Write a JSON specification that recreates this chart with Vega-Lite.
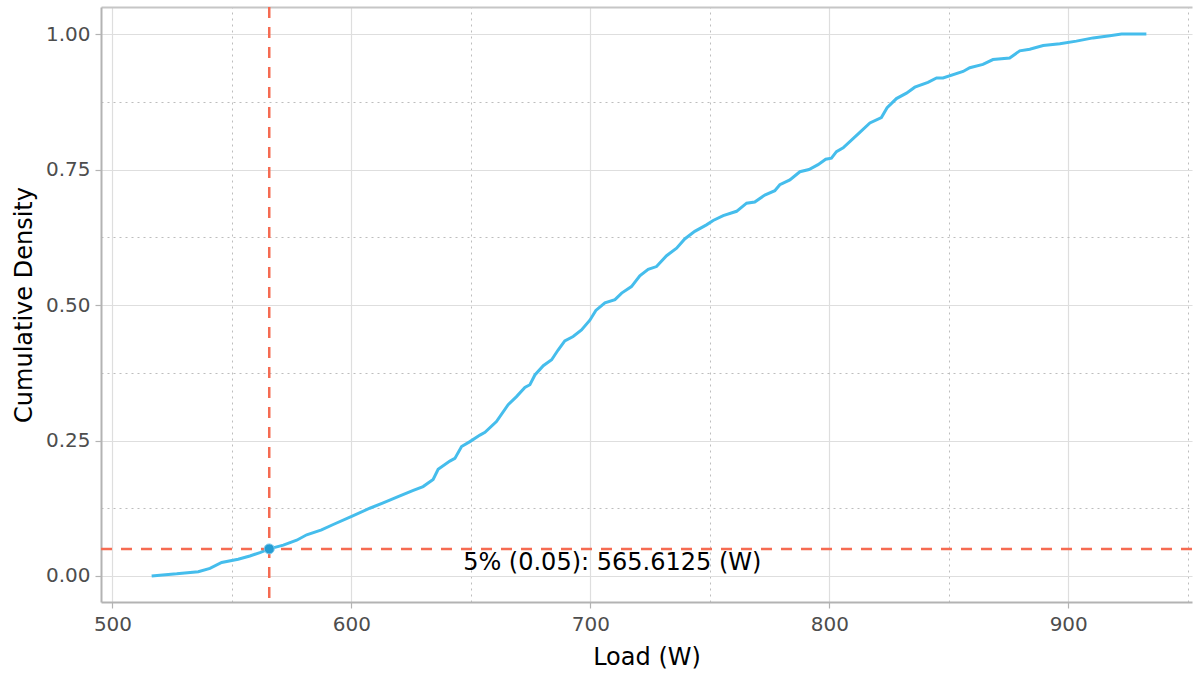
{
  "$schema": "https://vega.github.io/schema/vega-lite/v6.json",
  "width": 1091,
  "height": 595,
  "autosize": {"type": "none"},
  "padding": {"left": 101, "top": 7, "right": 2, "bottom": 71},
  "background": "white",
  "view": {"stroke": null},
  "config": {
    "font": "DejaVu Sans",
    "axis": {"labelFont": "DejaVu Sans", "titleFont": "DejaVu Sans"}
  },
  "datasets": {
    "ecdf": [
      {"load": 516.4, "density": 0.0},
      {"load": 521.0, "density": 0.002},
      {"load": 526.9, "density": 0.004},
      {"load": 535.9, "density": 0.008},
      {"load": 540.8, "density": 0.014},
      {"load": 545.7, "density": 0.025},
      {"load": 552.6, "density": 0.031},
      {"load": 557.5, "density": 0.037},
      {"load": 561.7, "density": 0.043},
      {"load": 565.6, "density": 0.05},
      {"load": 571.5, "density": 0.057},
      {"load": 577.1, "density": 0.066},
      {"load": 581.3, "density": 0.076},
      {"load": 587.5, "density": 0.085},
      {"load": 592.4, "density": 0.095},
      {"load": 600.1, "density": 0.11},
      {"load": 607.7, "density": 0.125},
      {"load": 613.3, "density": 0.135},
      {"load": 620.3, "density": 0.148},
      {"load": 625.9, "density": 0.158},
      {"load": 630.0, "density": 0.165},
      {"load": 634.2, "density": 0.178},
      {"load": 636.3, "density": 0.197},
      {"load": 641.2, "density": 0.212},
      {"load": 643.3, "density": 0.217},
      {"load": 646.1, "density": 0.239},
      {"load": 649.6, "density": 0.248},
      {"load": 653.8, "density": 0.26},
      {"load": 655.9, "density": 0.265},
      {"load": 660.7, "density": 0.285},
      {"load": 665.6, "density": 0.316},
      {"load": 669.1, "density": 0.331},
      {"load": 672.6, "density": 0.348},
      {"load": 674.7, "density": 0.353},
      {"load": 676.8, "density": 0.371},
      {"load": 680.3, "density": 0.388},
      {"load": 683.8, "density": 0.399},
      {"load": 686.5, "density": 0.417},
      {"load": 689.3, "density": 0.434},
      {"load": 692.8, "density": 0.442},
      {"load": 696.3, "density": 0.454},
      {"load": 699.8, "density": 0.472},
      {"load": 702.3, "density": 0.49},
      {"load": 706.1, "density": 0.504},
      {"load": 710.3, "density": 0.51},
      {"load": 713.1, "density": 0.522},
      {"load": 717.2, "density": 0.534},
      {"load": 720.7, "density": 0.554},
      {"load": 724.2, "density": 0.566},
      {"load": 727.7, "density": 0.571},
      {"load": 731.9, "density": 0.591},
      {"load": 736.1, "density": 0.605},
      {"load": 739.5, "density": 0.622},
      {"load": 743.7, "density": 0.636},
      {"load": 748.6, "density": 0.648},
      {"load": 751.4, "density": 0.656},
      {"load": 755.6, "density": 0.665},
      {"load": 761.2, "density": 0.673},
      {"load": 765.4, "density": 0.688},
      {"load": 768.8, "density": 0.69},
      {"load": 773.0, "density": 0.703},
      {"load": 777.2, "density": 0.711},
      {"load": 779.3, "density": 0.722},
      {"load": 783.5, "density": 0.731},
      {"load": 787.7, "density": 0.746},
      {"load": 791.5, "density": 0.75},
      {"load": 795.3, "density": 0.759},
      {"load": 798.5, "density": 0.769},
      {"load": 800.9, "density": 0.771},
      {"load": 803.0, "density": 0.783},
      {"load": 805.8, "density": 0.79},
      {"load": 812.1, "density": 0.816},
      {"load": 817.0, "density": 0.836},
      {"load": 821.8, "density": 0.846},
      {"load": 824.2, "density": 0.864},
      {"load": 828.1, "density": 0.881},
      {"load": 832.3, "density": 0.891},
      {"load": 835.8, "density": 0.902},
      {"load": 841.3, "density": 0.911},
      {"load": 844.9, "density": 0.919},
      {"load": 847.6, "density": 0.919},
      {"load": 856.0, "density": 0.931},
      {"load": 858.8, "density": 0.938},
      {"load": 864.3, "density": 0.944},
      {"load": 868.5, "density": 0.953},
      {"load": 875.5, "density": 0.956},
      {"load": 879.7, "density": 0.969},
      {"load": 883.9, "density": 0.972},
      {"load": 889.5, "density": 0.979},
      {"load": 896.5, "density": 0.982},
      {"load": 903.4, "density": 0.987},
      {"load": 910.4, "density": 0.993},
      {"load": 917.4, "density": 0.997},
      {"load": 922.3, "density": 1.0},
      {"load": 932.7, "density": 1.0}
    ],
    "quantile": [
      {"load": 565.6125, "density": 0.05, "label": "5% (0.05): 565.6125 (W)"}
    ]
  },
  "resolve": {"axis": {"x": "independent", "y": "independent"}},
  "layer": [
    {
      "data": {"name": "ecdf"},
      "mark": {"type": "line", "color": "#45bdec", "strokeWidth": 3, "interpolate": "linear"},
      "encoding": {
        "x": {
          "field": "load", "type": "quantitative",
          "scale": {"domain": [495.2, 951.8], "nice": false, "zero": false},
          "axis": {
            "orient": "bottom", "title": "Load (W)", "values": [500, 600, 700, 800, 900],
            "format": "d", "grid": true, "gridColor": "#dedede", "gridWidth": 1.2,
            "domainColor": "#b3b3b3", "domainWidth": 2, "tickColor": "#b3b3b3", "tickWidth": 1.2,
            "tickSize": 6, "labelColor": "#4d4d4d", "labelFontSize": 20, "labelPadding": 6,
            "titleColor": "#000000", "titleFontSize": 24, "titleFontWeight": "normal", "titlePadding": 11
          }
        },
        "y": {
          "field": "density", "type": "quantitative",
          "scale": {"domain": [-0.048, 1.05], "nice": false, "zero": false},
          "axis": {
            "orient": "left", "title": "Cumulative Density", "values": [0, 0.25, 0.5, 0.75, 1],
            "format": ".2f", "grid": true, "gridColor": "#dedede", "gridWidth": 1.2,
            "domainColor": "#b3b3b3", "domainWidth": 2, "tickColor": "#b3b3b3", "tickWidth": 1.2,
            "tickSize": 6, "labelColor": "#4d4d4d", "labelFontSize": 20, "labelPadding": 5,
            "titleColor": "#000000", "titleFontSize": 24, "titleFontWeight": "normal", "titlePadding": 9
          }
        }
      }
    },
    {
      "data": {"name": "quantile"},
      "mark": {"type": "rule", "color": "#f56b52", "strokeWidth": 2.5, "strokeDash": [11, 9]},
      "encoding": {
        "y": {
          "field": "density", "type": "quantitative",
          "axis": {
            "orient": "left", "title": null, "values": [0.125, 0.375, 0.625, 0.875],
            "grid": true, "gridColor": "#bdbdbd", "gridDash": [2, 4], "gridWidth": 1,
            "labels": false, "ticks": false, "domain": false
          }
        }
      }
    },
    {
      "data": {"name": "quantile"},
      "mark": {"type": "rule", "color": "#f56b52", "strokeWidth": 2.5, "strokeDash": [11, 9]},
      "encoding": {
        "x": {
          "field": "load", "type": "quantitative",
          "axis": {
            "orient": "bottom", "title": null, "values": [550, 650, 750, 850, 950],
            "grid": true, "gridColor": "#bdbdbd", "gridDash": [2, 4], "gridWidth": 1,
            "labels": false, "ticks": false, "domain": false
          }
        }
      }
    },
    {
      "data": {"name": "quantile"},
      "mark": {"type": "point", "filled": true, "color": "#259dd3", "size": 100, "opacity": 1, "stroke": "#7fcbee", "strokeWidth": 1},
      "encoding": {
        "x": {
          "field": "load", "type": "quantitative",
          "axis": {
            "orient": "top", "title": null, "labels": false, "ticks": false, "grid": false,
            "domain": true, "domainColor": "#c6c6c6", "domainWidth": 2
          }
        },
        "y": {"field": "density", "type": "quantitative", "axis": null}
      }
    },
    {
      "data": {"name": "quantile"},
      "mark": {"type": "text", "fontSize": 24, "color": "#000000", "align": "center", "baseline": "middle", "dx": 343, "dy": 14, "font": "DejaVu Sans"},
      "encoding": {
        "x": {"field": "load", "type": "quantitative", "axis": null},
        "y": {"field": "density", "type": "quantitative", "axis": null},
        "text": {"field": "label"}
      }
    }
  ]
}
